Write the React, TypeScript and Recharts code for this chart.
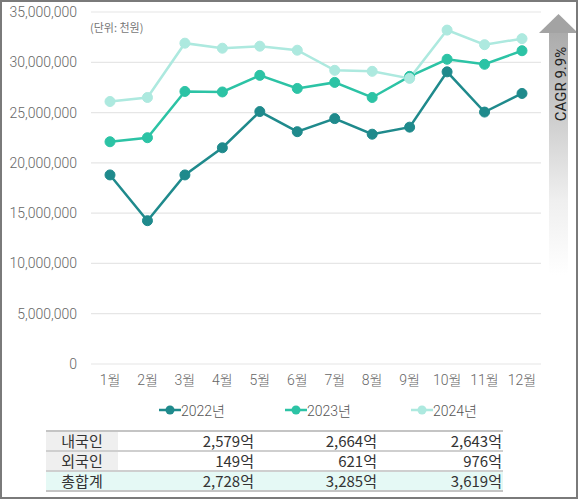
import { LineChart, Line, XAxis, YAxis, CartesianGrid } from "recharts";

const months = ["1월", "2월", "3월", "4월", "5월", "6월", "7월", "8월", "9월", "10월", "11월", "12월"];

// monthly values in 천원
const sales2022 = [18800000, 14250000, 18800000, 21500000, 25100000, 23100000, 24400000, 22850000, 23550000, 29050000, 25050000, 26900000];
const sales2023 = [22100000, 22500000, 27100000, 27050000, 28700000, 27400000, 28000000, 26500000, 28600000, 30300000, 29800000, 31150000];
const sales2024 = [26100000, 26500000, 31900000, 31400000, 31600000, 31200000, 29200000, 29100000, 28400000, 33200000, 31750000, 32350000];

const yTicks = [0, 5000000, 10000000, 15000000, 20000000, 25000000, 30000000, 35000000];

const seriesNames = ["2022년", "2023년", "2024년"];
const seriesColors = ["#1f8a8c", "#2cc3a5", "#ade9df"];

const tableRows = ["내국인", "외국인", "총합계"];
const tableValues = [
  ["2,579억", "2,664억", "2,643억"],
  ["149억", "621억", "976억"],
  ["2,728억", "3,285억", "3,619억"],
];

const cagrLabel = "CAGR 9.9%";

const chartData = months.map((m, i) => ({
  month: m,
  y2022: sales2022[i],
  y2023: sales2023[i],
  y2024: sales2024[i],
}));

const FONT = "Roboto, 'Noto Sans CJK KR', sans-serif";
const KFONT = "'Noto Sans CJK KR', Roboto, sans-serif";

const App = () => {
  const keys = ["y2022", "y2023", "y2024"];
  return (
    <div
      style={{
        position: "fixed",
        left: 0,
        top: 0,
        width: 578,
        height: 499,
        background: "#fff",
        fontFamily: FONT,
        overflow: "hidden",
      }}
    >
      <LineChart
        width={578}
        height={400}
        data={chartData}
        margin={{ top: 12, right: 37, left: 0, bottom: 6 }}
      >
        <CartesianGrid vertical={false} stroke="#e6e6e6" strokeWidth={1.2} />
        <XAxis
          dataKey="month"
          axisLine={false}
          tickLine={false}
          height={30}
          tickMargin={5}
          padding={{ left: 19, right: 19 }}
          tick={{ fill: "#666", fontSize: 14, fontFamily: FONT, fontWeight: 300 }}
          interval={0}
        />
        <YAxis
          domain={[0, 35000000]}
          ticks={yTicks}
          width={91}
          axisLine={false}
          tickLine={false}
          tickMargin={8}
          tick={{ fill: "#666", fontSize: 14, fontFamily: FONT, fontWeight: 300 }}
          tickFormatter={(v: number) => v.toLocaleString("en-US")}
        />
        {keys.map((k, i) => (
          <Line
            key={k}
            dataKey={k}
            name={seriesNames[i]}
            stroke={seriesColors[i]}
            strokeWidth={2.5}
            dot={{ r: 5, fill: seriesColors[i], stroke: seriesColors[i], strokeWidth: 1 }}
            isAnimationActive={false}
          />
        ))}
      </LineChart>

      {/* unit label */}
      <div style={{ position: "absolute", left: 90, top: 19, fontSize: 11, color: "#777", fontFamily: KFONT }}>
        (단위: 천원)
      </div>

      {/* legend */}
      {seriesNames.map((name, i) => (
        <div
          key={name}
          style={{
            position: "absolute",
            left: 159 + i * 126,
            top: 400,
            display: "flex",
            alignItems: "center",
            fontSize: 14,
            color: "#555",
            fontFamily: FONT,
            fontWeight: 300,
          }}
        >
          <svg width={22} height={12}>
            <line x1={0} y1={6} x2={22} y2={6} stroke={seriesColors[i]} strokeWidth={2.5} />
            <circle cx={11} cy={6} r={4.5} fill={seriesColors[i]} />
          </svg>
          <span>{name}</span>
        </div>
      ))}

      {/* CAGR arrow */}
      <svg style={{ position: "absolute", left: 0, top: 0 }} width={578} height={499}>
        <defs>
          <linearGradient id="shaft" x1="0" y1="0" x2="0" y2="1">
            <stop offset="0%" stopColor="#ababab" />
            <stop offset="36%" stopColor="#efefef" />
            <stop offset="52%" stopColor="#ffffff" />
          </linearGradient>
        </defs>
        <rect x={549} y={32} width={19} height={467} fill="url(#shaft)" />
        <polygon points="539,33 558.5,14 578,33" fill="#a3a3a3" />
        <text
          x={0}
          y={0}
          transform="translate(566,84) rotate(-90)"
          textAnchor="middle"
          fontSize={15}
          fill="#222"
          fontFamily={FONT}
        >
          {cagrLabel}
        </text>
      </svg>

      {/* summary table */}
      <table
        style={{
          position: "absolute",
          left: 46,
          top: 430,
          width: 457,
          borderCollapse: "collapse",
          fontSize: 15,
          color: "#333",
          fontFamily: KFONT,
          tableLayout: "fixed",
        }}
      >
        <colgroup>
          <col style={{ width: 72 }} />
          <col style={{ width: 137 }} />
          <col style={{ width: 123 }} />
          <col style={{ width: 125 }} />
        </colgroup>
        <tbody>
          {tableRows.map((label, r) => {
            const total = r === tableRows.length - 1;
            return (
              <tr
                key={label}
                style={{
                  height: 20,
                  background: total ? "#e5f9f5" : "transparent",
                  borderTop: r === 0 ? "2px solid #c4c4c4" : "2px solid #cfcfcf",
                  borderBottom: total ? "2px solid #c4c4c4" : undefined,
                }}
              >
                <td
                  style={{
                    textAlign: "center",
                    padding: 0,
                    lineHeight: "18px",
                    background: total ? "transparent" : "#efefef",
                  }}
                >
                  {label}
                </td>
                {tableValues[r].map((v, c) => (
                  <td key={c} style={{ textAlign: "right", padding: "0 1px 0 0", lineHeight: "18px" }}>
                    {v}
                  </td>
                ))}
              </tr>
            );
          })}
        </tbody>
      </table>

      {/* frame */}
      <div
        style={{
          position: "absolute",
          left: 0,
          top: 0,
          width: 578,
          height: 499,
          boxSizing: "border-box",
          border: "2px solid #7a7a7a",
          pointerEvents: "none",
        }}
      />
    </div>
  );
};

export default App;
